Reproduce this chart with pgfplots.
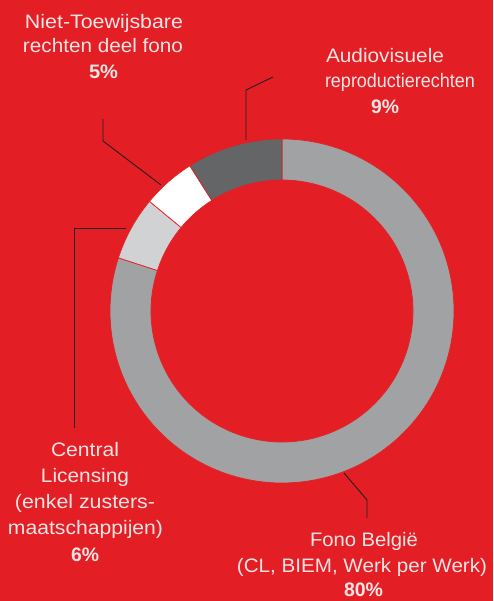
\documentclass[border=0pt]{standalone}
\usepackage{graphicx}
\usepackage{pgfplots}
\usepackage{pgfplotstable}
\usepackage{fontspec}
\setmainfont{Liberation Sans}
\pgfplotsset{compat=1.18}
\definecolor{bgred}{RGB}{227,30,36}
\definecolor{txt}{RGB}{250,228,228}
\definecolor{fonogray}{RGB}{160,162,164}
\definecolor{darkgray}{RGB}{100,101,103}
\definecolor{lightgray}{RGB}{209,210,212}
\definecolor{leader}{RGB}{35,31,32}
\tikzset{lab/.style={font=\fontsize{19.5}{22}\selectfont, text=txt, inner sep=0pt, anchor=base}}
\newcommand\lab[4]{\node[lab] at (axis cs:#1,#2) {\resizebox{#3pt}{\height}{#4}};}
\pgfplotstableread{
label   value color
Fono    80    fonogray
Central 6     lightgray
Niet    5     white
Audio   9     darkgray
}\donutdata
\begin{document}
\begin{tikzpicture}
\fill[bgred] (0,0) rectangle (493pt,601pt);
\begin{axis}[
  width=493pt, height=601pt, scale only axis,
  xmin=0, xmax=493, ymin=0, ymax=601,
  hide axis, clip=false,
]
\addplot[draw=none] coordinates {(0,0) (493,601)};
\def\cum{0}
\pgfplotsforeachungrouped \i in {0,...,3}{%
  \pgfplotstablegetelem{\i}{value}\of\donutdata
  \let\val\pgfplotsretval
  \pgfplotstablegetelem{\i}{color}\of\donutdata
  \let\col\pgfplotsretval
  \pgfmathsetmacro\aone{90-3.6*\cum}%
  \pgfmathsetmacro\atwo{90-3.6*(\cum+\val)}%
  \pgfmathsetmacro\newcum{\cum+\val}%
  \global\let\cum\newcum
  \edef\temp{\noexpand\filldraw[fill=\col, draw=bgred, line width=0.7pt, shift={(axis cs:282,290)}]
    (\aone:172pt) arc[start angle=\aone, end angle=\atwo, radius=172pt]
    -- (\atwo:131pt) arc[start angle=\atwo, end angle=\aone, radius=131pt] -- cycle;}%
  \temp
}
% leader lines
\draw[leader, line width=0.9pt] (axis cs:246,461) -- (axis cs:246,511) -- (axis cs:273,524);
\draw[leader, line width=0.9pt] (axis cs:161,416) -- (axis cs:103,460) -- (axis cs:103,482);
\draw[leader, line width=0.9pt] (axis cs:126,373) -- (axis cs:74,373) -- (axis cs:74,173);
\draw[leader, line width=0.9pt] (axis cs:344,128) -- (axis cs:367,101) -- (axis cs:367,83);
% labels
\lab{104}{572}{158}{Niet-Toewijsbare}
\lab{103}{548}{160}{rechten deel fono}
\lab{103.5}{522}{29}{\bfseries 5\%}
\lab{385}{538}{118}{Audiovisuele}
\lab{400}{513}{150}{reproductierechten}
\lab{385}{487}{28}{\bfseries 9\%}
\lab{85}{144}{68}{Central}
\lab{85}{118}{88}{Licensing}
\lab{85}{92}{140}{(enkel zusters-}
\lab{85.5}{66}{155}{maatschappijen)}
\lab{85}{39}{28}{\bfseries 6\%}
\lab{364}{54}{108}{Fono België}
\lab{362}{28}{250}{(CL, BIEM, Werk per Werk)}
\lab{363.5}{5}{39}{\bfseries 80\%}
\end{axis}
\end{tikzpicture}
\end{document}
